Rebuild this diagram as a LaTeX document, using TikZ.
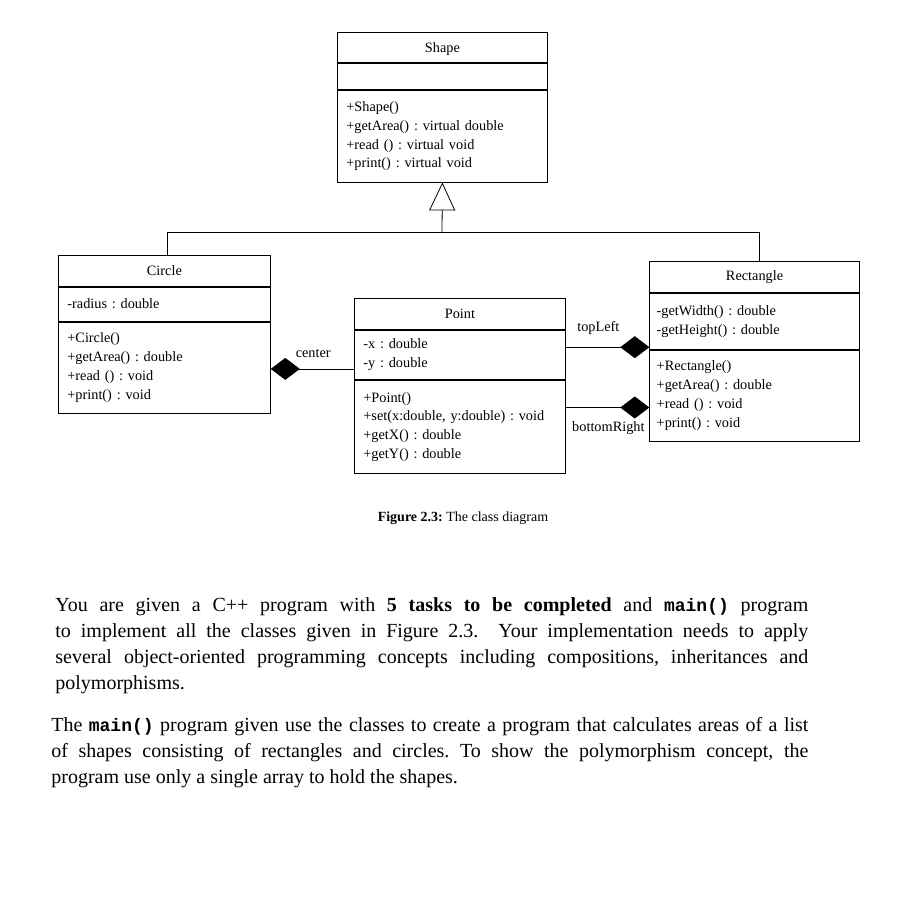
\documentclass[tikz,border=0pt]{standalone}
\usepackage{fontspec}
\setmainfont{Liberation Serif}
\setmonofont{Liberation Mono}
\usetikzlibrary{arrows.meta}

\newcommand{\umlfont}{\fontsize{14.3}{18.9}\selectfont}
\newcommand{\bodyfont}{\fontsize{20}{26}\selectfont}
\newcommand{\codetxt}[1]{{\ttfamily\bfseries\fontsize{18}{26}\selectfont #1}}
\frenchspacing

\begin{document}
\begin{tikzpicture}[x=1pt, y=-1pt, line width=0.8pt,
    classtitle/.style={draw, anchor=north west, inner sep=0pt, font=\umlfont},
    classpart/.style={draw, anchor=north west, inner xsep=9pt, inner ysep=0pt, align=left, font=\umlfont},
    inherit/.style={-{Triangle[open, length=28pt, width=26pt]}},
    compose/.style={-{Diamond[length=29pt, width=22pt]}},
    rolelabel/.style={font=\umlfont, inner sep=1pt}]
        \useasboundingbox (0,0) rectangle (900,911);

        % Classe Shape
        \node[classtitle, text depth=0pt, minimum width=210pt, minimum height=30.3pt] (shapeTitle) at (337,32) {Shape};
        \node[classpart, text width=192pt, minimum height=26pt] (shapeAttr) at (shapeTitle.south west) {};
        \node[classpart, text width=192pt, minimum height=91.7pt] (shapeMeth) at (shapeAttr.south west)
        {+Shape()\\+getArea() : virtual double\\+read () : virtual void\\+print() : virtual void};

        % Classe Circle
        \node[classtitle, minimum width=212pt, minimum height=30.7pt] (circleTitle) at (58,255) {Circle};
        \node[classpart, text width=194pt, minimum height=34.3pt] (circleAttr) at (circleTitle.south west) {-radius : double};
        \node[classpart, text width=194pt, minimum height=91.7pt] (circleMeth) at (circleAttr.south west)
        {+Circle()\\+getArea() : double\\+read () : void\\+print() : void};

        % Classe Point
        \node[classtitle, minimum width=211pt, minimum height=31pt] (pointTitle) at (354,298.3) {Point};
        \node[classpart, text width=193pt, minimum height=49pt] (pointAttr) at (pointTitle.south west) {-x : double\\-y : double};
        \node[classpart, text width=193pt, minimum height=93.4pt] (pointMeth) at (pointAttr.south west)
        {+Point()\\+set(x:double, y:double) : void\\+getX() : double\\+getY() : double};

        % Classe Rectangle
        \node[classtitle, minimum width=209.7pt, minimum height=30.7pt] (rectTitle) at (649.3,261) {Rectangle};
        \node[classpart, inner xsep=7pt, text width=195.7pt, minimum height=56.6pt] (rectAttr) at (rectTitle.south west)
        {-getWidth() : double\\-getHeight() : double};
        \node[classpart, inner xsep=7pt, text width=195.7pt, minimum height=91pt] (rectMeth) at (rectAttr.south west)
        {+Rectangle()\\+getArea() : double\\+read () : void\\+print() : void};

        % Heranca
        \coordinate (bus) at (442,232.3);
        \draw[inherit] (bus) -- (shapeMeth.south);
        \draw ([xshift=3pt]circleTitle.north) |- (bus) -| ([xshift=4.8pt]rectTitle.north);

        % Composicoes
        \coordinate (centerStart) at ([yshift=-13.9pt]pointAttr.west);
        \draw[compose] (centerStart) -- node[rolelabel, above=10pt, pos=0.49] (centerLabel) {center} (centerStart -| circleMeth.east);

        \coordinate (topLeftStart) at ([yshift=7.8pt]pointAttr.east);
        \draw[compose] (topLeftStart) -- node[rolelabel, above=11pt, pos=0.39] (topLeftLabel) {topLeft} (topLeftStart -| rectAttr.west);

        \coordinate (bottomRightStart) at ([yshift=19.5pt]pointMeth.east);
        \draw[compose] (bottomRightStart) -- node[rolelabel, below=12.5pt, pos=0.51] (bottomRightLabel) {bottomRight} (bottomRightStart -| rectMeth.west);

        % Legenda
        \node[font=\fontsize{14}{17}\selectfont] (caption) at (463,518) {\textbf{Figure 2.3:} The class diagram};

        % Texto
        \node[anchor=base west, text width=753pt, inner sep=0pt, align=justify, font=\bodyfont] (para1) at (55,611)
        {You are given a C++ program with \textbf{5 tasks to be completed} and \codetxt{main()} program\linebreak
        to implement all the classes given in Figure 2.3.~ Your implementation needs to apply\linebreak
        several object-oriented programming concepts including compositions, inheritances and\linebreak
        polymorphisms.};
        \node[anchor=base west, text width=757pt, inner sep=0pt, align=justify, font=\bodyfont] (para2) at (51,731)
        {The \codetxt{main()} program given use the classes to create a program that calculates areas of a list\linebreak
        of shapes consisting of rectangles and circles. To show the polymorphism concept, the\linebreak
        program use only a single array to hold the shapes.};
    \end{tikzpicture}
\end{document}
